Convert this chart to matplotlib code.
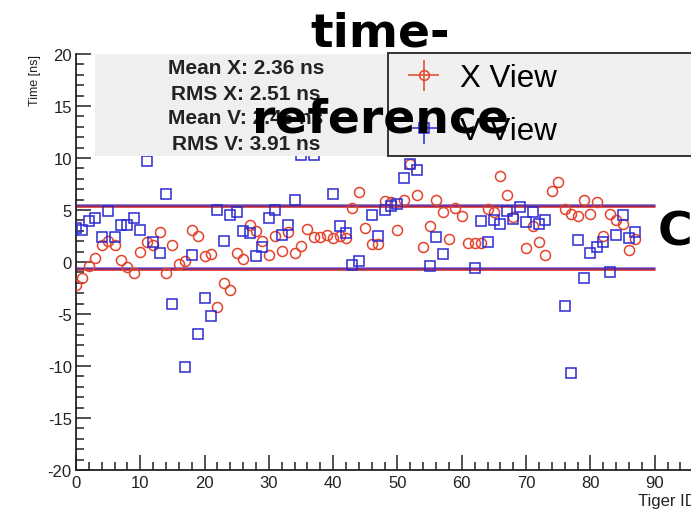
import numpy as np
import matplotlib
matplotlib.use("Agg")
import matplotlib.pyplot as plt
from matplotlib.patches import Rectangle

nan = np.nan

# time offset per TIGER chip, X and V views
tiger_id = np.arange(88)
x_view = [-2.2, -1.5, -0.4, 0.4, 1.6, 2.0, 1.6, 0.2, -0.5, -1.1,
          1.0, 1.9, 1.6, 2.85, -1.1, 1.6, -0.2, 0.1, 3.1, 2.5,
          0.6, 0.8, -4.3, -2.0, -2.7, 0.9, 0.3, 3.6, 3.0, 2.05,
          0.7, 2.5, 1.1, 2.9, 0.9, 1.5, 3.2, 2.4, 2.4, 2.6,
          2.3, 2.5, 2.3, 5.2, 6.75, 3.3, 1.75, 1.75, 5.9, 5.75,
          3.1, 5.95, 9.4, 6.45, 1.4, 3.5, 5.95, 4.85, 2.2, 5.15,
          4.45, 1.8, 1.8, 1.8, 5.1, 4.85, 8.3, 6.45, 4.3, nan,
          1.3, 3.5, 1.95, 0.7, 6.85, 7.7, 5.1, 4.6, 4.4, 5.95,
          4.6, 5.75, 2.5, 4.6, 4.05, 3.65, 1.2, 2.2]
v_view = [3.3, 3.1, 3.9, 4.2, 2.4, 4.9, 2.4, 3.6, 3.6, 4.2,
          3.1, 9.7, 1.9, 0.9, 6.5, -4.0, nan, -10.1, 0.7, -6.9,
          -3.5, -5.2, 5.0, 2.0, 4.5, 4.85, 3.0, 2.8, 0.6, 1.4,
          4.2, 5.0, 2.6, 3.6, 6.0, 10.3, nan, 10.3, nan, nan,
          6.5, 3.5, 2.8, -0.3, 0.1, nan, 4.55, 2.5, 5.0, 5.4,
          5.55, 8.05, 9.4, 8.85, nan, -0.35, 2.4, 0.75, nan, nan,
          nan, nan, -0.6, 3.9, 1.95, 4.05, 3.65, 4.95, 4.15, 5.25,
          3.8, 4.85, 3.65, 4.0, nan, nan, -4.2, -10.7, 2.1, -1.55,
          0.85, 1.4, 1.95, -1.0, 2.6, 4.5, 2.3, 2.9]

mean_x, rms_x = 2.36, 2.51
mean_v, rms_v = 2.45, 3.91
window = 3.0  # ns, acceptance band around the mean
n_tiger = 90

red = "#e4432b"
blue = "#2a2ad2"

plt.rcParams["font.family"] = ["Liberation Sans", "DejaVu Sans"]
plt.rcParams["axes.unicode_minus"] = False

W, H = 691, 510
fig = plt.figure(figsize=(W / 100, H / 100), dpi=100)
ax = fig.add_axes([76 / W, 39 / H, 643 / W, 416 / H])

ax.plot(tiger_id, x_view, "o", ms=7.2, mfc="none", mec=red, mew=1.1,
        label="X View", zorder=3)
ax.plot(tiger_id, v_view, "s", ms=6.6, mfc="none", mec=blue, mew=1.1,
        label="V View", zorder=3)

ax.hlines([mean_x - window, mean_x + window], 0, n_tiger, colors=red, lw=2, zorder=2)
ax.hlines([mean_v - window, mean_v + window], 0, n_tiger, colors="#3a1ab8", lw=2,
          alpha=0.6, zorder=2)

ax.set_xlim(0, 100)
ax.set_ylim(-20, 20)
ax.set_xticks(np.arange(0, 91, 10))
ax.set_xticks(np.arange(0, 100, 2), minor=True)
ax.set_yticks(np.arange(-20, 21, 5))
ax.set_yticks(np.arange(-20, 21, 1), minor=True)
ax.tick_params(which="both", direction="in", width=1.1, color="#222222",
               labelsize=12, labelcolor="#222222")
ax.tick_params(axis="y", pad=3)
ax.tick_params(which="major", length=11)
ax.tick_params(which="minor", length=5.5)
for s in ("top", "right"):
    ax.spines[s].set_visible(False)
for s in ("left", "bottom"):
    ax.spines[s].set_linewidth(1.3)
    ax.spines[s].set_color("#222222")

# statistics box
ax.add_patch(Rectangle((95 / W, 1 - 157 / H), 310 / W, 102 / H,
                       transform=fig.transFigure, facecolor="#efefef",
                       edgecolor="none", clip_on=False, zorder=4))
stats = [f"Mean X: {mean_x:.2f} ns", f"RMS X: {rms_x:.2f} ns",
         f"Mean V: {mean_v:.2f} ns", f"RMS V: {rms_v:.2f} ns"]
for i, line in enumerate(stats):
    ax.text(246 / W, 1 - (69 + 25 * i) / H, line, transform=fig.transFigure,
            ha="center", va="center", fontsize=15, fontweight="bold",
            color="#222222", zorder=4.5)

# legend with error-bar glyphs
hx = ax.errorbar([nan], [nan], xerr=1, yerr=1, fmt="o", ms=7, mfc="none",
                 color=red, mew=1.1, elinewidth=1.1)
hv = ax.errorbar([nan], [nan], xerr=1, yerr=1, fmt="s", ms=6.5, mfc="none",
                 color=blue, mew=1.1, elinewidth=1.1)
leg = ax.legend([hx, hv], ["X View", "V View"], loc="lower left",
                bbox_to_anchor=(388 / W, 1 - 157 / H, 320 / W, 103 / H),
                bbox_transform=fig.transFigure, mode="expand", fontsize=22.5,
                frameon=True, fancybox=False, framealpha=1,
                facecolor="#f0f0f0", edgecolor="#333333", borderaxespad=0,
                borderpad=0.32, labelspacing=0.73, handlelength=1.65,
                handletextpad=0.33)
leg.get_frame().set_linewidth(1.4)
leg.set_zorder(5)

fig.text(35 / W, 1 - 55 / H, "Time [ns]", rotation=90, ha="center", va="top",
         fontsize=9, color="#222222")
fig.text(638 / W, 1 - 502 / H, "Tiger ID", ha="left", va="center",
         fontsize=12, color="#222222")

# page title
fig.text(380 / W, 1 - 34 / H, "time-", ha="center", va="center",
         fontsize=34, fontweight="bold", family="DejaVu Sans")
fig.text(380 / W, 1 - 120 / H, "reference", ha="center", va="center",
         fontsize=34, fontweight="bold", family="DejaVu Sans")
fig.text(658 / W, 1 - 233 / H, "C", ha="left", va="center",
         fontsize=34, fontweight="bold", family="DejaVu Sans")

fig.savefig("out.png", dpi=100)
